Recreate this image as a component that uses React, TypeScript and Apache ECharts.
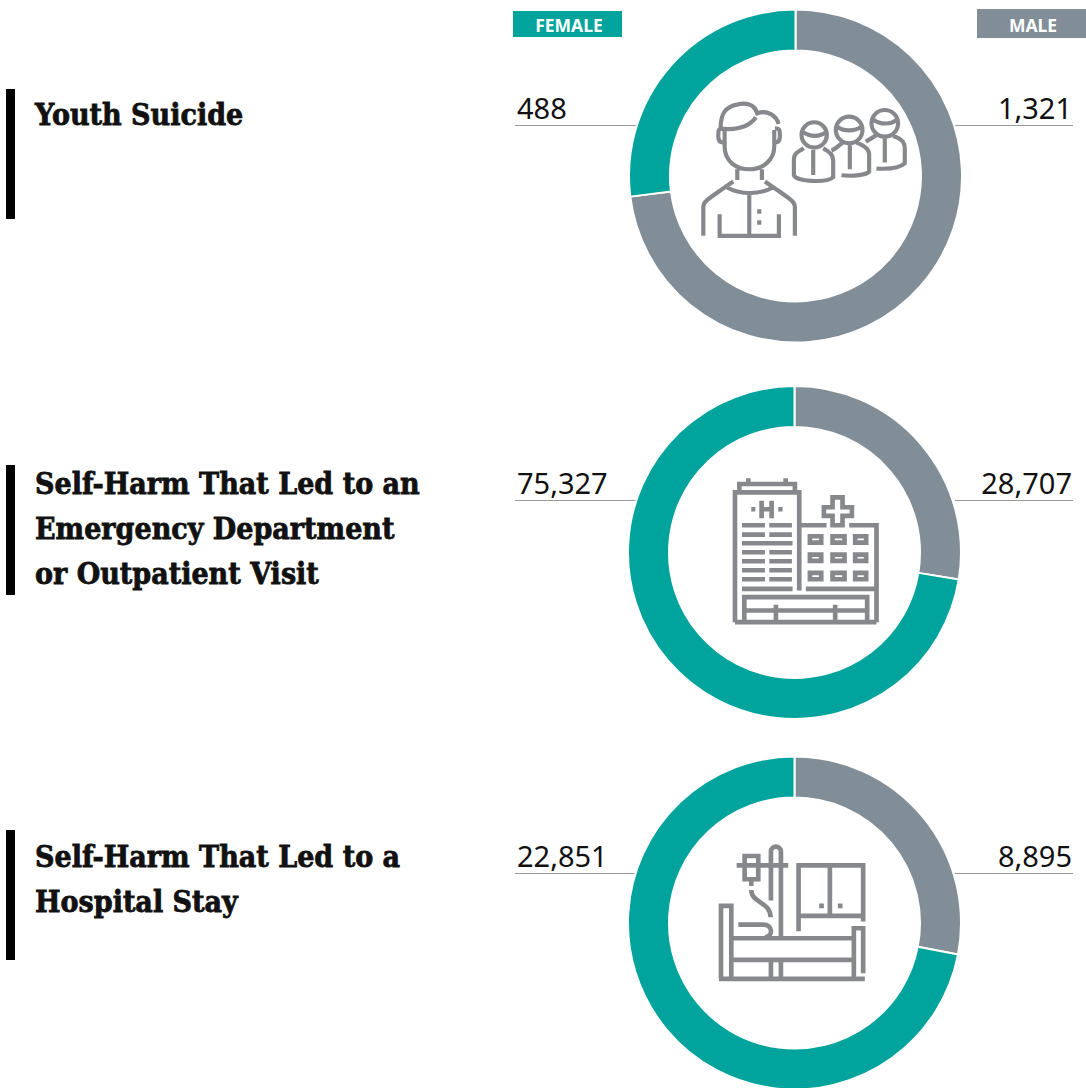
import React, { useEffect, useRef } from "react";
import * as echarts from "echarts";

const groups = ["Youth Suicide", "Self-Harm ED", "Self-Harm Stay"];
const femaleValues = [488, 75327, 22851];
const maleValues = [1321, 28707, 8895];
const titleLines = [
  ["Youth Suicide"],
  ["Self-Harm That Led to an", "Emergency Department", "or Outpatient Visit"],
  ["Self-Harm That Led to a", "Hospital Stay"],
];

const TEAL = "#00a49c";
const SLATE = "#818d97";
const ICON = "#87888b";

// Icon outlines, drawn in a 3x local space and scaled down when placed.
const personPath = [
  "M296 132C290 108 262 88 232 100C224 74 200 66 170 74C136 82 122 100 122 146C160 150 205 145 228 112",
  "M128 146C115 146 115 150 115 170C115 182 120 188 130 188",
  "M134 146L134 200C134 245 170 268 208 268C250 268 283 240 283 200L283 150",
  "M285 145C300 145 300 150 300 170C300 182 296 188 285 188",
  "M172 268L172 300M246 268L246 300",
  "M70 468L70 380C70 365 80 360 160 305M345 468L345 380C345 365 335 360 255 305",
  "M140 322C180 345 240 345 280 322",
  "M208 335L208 468",
  "M119 403L119 468L297 468L297 403",
  "M238 388L238 402M238 421L238 435",
  // three smaller figures
  "M365 165A38 38 0 1 0 441 165A38 38 0 1 0 365 165",
  "M368 155C390 172 420 172 440 155",
  "M372 205C345 220 342 225 342 240L342 285C345 305 440 310 460 292L460 240C460 225 450 215 430 205",
  "M400 210L400 285",
  "M468 150A40 40 0 1 0 548 150A40 40 0 1 0 468 150",
  "M472 140C490 155 525 155 545 140",
  "M455 212C470 205 480 195 488 188M530 188C560 200 568 210 568 225L568 275C560 285 520 290 485 286",
  "M510 192L510 268",
  "M575 130A40 40 0 1 0 655 130A40 40 0 1 0 575 130",
  "M580 118C600 135 635 135 652 118",
  "M558 185C570 178 580 172 590 165M640 168C670 178 675 190 675 205L675 250C660 265 625 268 590 266",
  "M615 172L615 248",
].join("");

const hospitalPath = [
  "M88 72L255 72L255 97L88 97ZM115 55L115 72M227 55L227 72",
  "M75 487L75 97L268 97L268 392",
  "M368 112L398 112L398 142L426 142L426 168L398 168L398 196L368 196L368 168L342 168L342 142L368 142Z",
  "M155 122L155 175M185 122L185 175M155 148L185 148M124 148L136 148M205 148L218 148",
  "M96 196L165 196M178 196L246 196M96 224L165 224M178 224L246 224M96 250L248 250",
  "M96 277L165 277M178 277L246 277M96 304L165 304M178 304L246 304",
  "M96 331L165 331M178 331L246 331M96 358L165 358M178 358L246 358M96 387L248 387",
  "M268 196L350 196M418 196L500 196L500 487M288 387L495 387",
  "M300 229L334 229L334 248L300 248ZM368 229L404 229L404 248L368 248ZM436 229L469 229L469 248L436 248Z",
  "M300 284L334 284L334 303L300 303ZM368 284L404 284L404 303L368 303ZM436 284L469 284L469 303L436 303Z",
  "M300 339L334 339L334 358L300 358ZM368 339L404 339L404 358L368 358ZM436 339L469 339L469 358L436 358Z",
  "M103 487L103 412L472 412L472 487M75 487L500 487M103 452L472 452M198 435L198 487M376 435L376 487",
].join("");

const bedPath = [
  "M63 445L63 228L94 228L94 445M57 447L495 447",
  "M94 325L462 325M94 390L462 390",
  "M462 445L462 295L490 295L490 430",
  "M213 397L213 445M243 397L243 445",
  "M243 320L243 65C243 45 213 45 213 65L213 212",
  "M110 106L265 106M134 78L175 78L175 148L134 148ZM154 148L154 168",
  "M154 180C154 220 212 215 212 262M115 284L190 284C220 284 220 320 195 322",
  "M296 304L296 106L490 106L490 275M296 258L490 258M390 106L390 258",
  "M358 228L372 228M414 228L428 228",
].join("");

echarts.graphic.registerShape("iconPerson", echarts.graphic.extendPath(personPath, {}) as any);
echarts.graphic.registerShape("iconHospital", echarts.graphic.extendPath(hospitalPath, {}) as any);
echarts.graphic.registerShape("iconBed", echarts.graphic.extendPath(bedPath, {}) as any);

const centers: [number, number][] = [[795.5, 176], [794.5, 552.5], [794.5, 923]];
const ruleY = [125.5, 500.5, 873.5];
const barTop = [89, 465, 830];
const titleTop = [115, 484, 857];
const icons = [
  { type: "iconPerson", x: 680, y: 80, stroke: 12.5 },
  { type: "iconHospital", x: 710, y: 460, stroke: 14 },
  { type: "iconBed", x: 700, y: 830, stroke: 14 },
];
const fmt = (v: number) => v.toLocaleString("en-US");

export default function App() {
  const ref = useRef<HTMLDivElement>(null);
  useEffect(() => {
    document.body.style.margin = "0";
    const chart = echarts.init(ref.current!, undefined, { renderer: "svg" });
    const numberStyle = { fontFamily: "Noto Sans", fontSize: 29, fontWeight: 400, fill: "#111" };
    const badgeStyle = { fill: "#fff", fontFamily: "Noto Sans", fontSize: 17.5, fontWeight: 700, align: "center", verticalAlign: "middle" };
    const graphic: any[] = [
      { type: "rect", shape: { x: 513, y: 11, width: 109, height: 26 }, style: { fill: TEAL } },
      { type: "rect", shape: { x: 977, y: 9, width: 109, height: 29 }, style: { fill: SLATE } },
      { type: "text", x: 569, y: 25, style: { ...badgeStyle, text: "FEMALE" } },
      { type: "text", x: 1033, y: 25, style: { ...badgeStyle, text: "MALE" } },
    ];
    groups.forEach((_, i) => {
      graphic.push(
        { type: "rect", shape: { x: 6, y: barTop[i], width: 9, height: 130 }, style: { fill: "#000" } },
        { type: "line", shape: { x1: 515, y1: ruleY[i], x2: 637, y2: ruleY[i] }, style: { stroke: "#999", lineWidth: 1 } },
        { type: "line", shape: { x1: 955, y1: ruleY[i], x2: 1073, y2: ruleY[i] }, style: { stroke: "#999", lineWidth: 1 } },
        { type: "text", x: 517, y: ruleY[i] - 4, style: { ...numberStyle, text: fmt(femaleValues[i]), align: "left", verticalAlign: "bottom" } },
        { type: "text", x: 1072, y: ruleY[i] - 4, style: { ...numberStyle, text: fmt(maleValues[i]), align: "right", verticalAlign: "bottom" } },
        {
          type: icons[i].type,
          x: icons[i].x,
          y: icons[i].y,
          scaleX: 1 / 3,
          scaleY: 1 / 3,
          style: { fill: "none", stroke: ICON, lineWidth: icons[i].stroke },
        }
      );
      titleLines[i].forEach((line, j) => {
        graphic.push({
          type: "text",
          x: 35,
          y: titleTop[i] + j * 45,
          scaleX: 0.932,
          style: {
            text: line,
            fill: "#111",
            stroke: "#111",
            lineWidth: 0.8,
            fontFamily: "DejaVu Serif",
            fontWeight: 700,
            fontSize: 29,
            align: "left",
            verticalAlign: "middle",
          },
        });
      });
    });
    chart.setOption({
      animation: false,
      graphic,
      series: groups.map((name, i) => ({
        type: "pie",
        name,
        center: centers[i],
        radius: [125.5, 166.5],
        startAngle: 90,
        clockwise: true,
        silent: true,
        label: { show: false },
        labelLine: { show: false },
        itemStyle: { borderColor: "#fff", borderWidth: 2 },
        data: [
          { name: "Male", value: maleValues[i], itemStyle: { color: SLATE } },
          { name: "Female", value: femaleValues[i], itemStyle: { color: TEAL } },
        ],
      })),
    });
    return () => chart.dispose();
  }, []);
  return <div ref={ref} style={{ width: 1086, height: 1088 }} />;
}
